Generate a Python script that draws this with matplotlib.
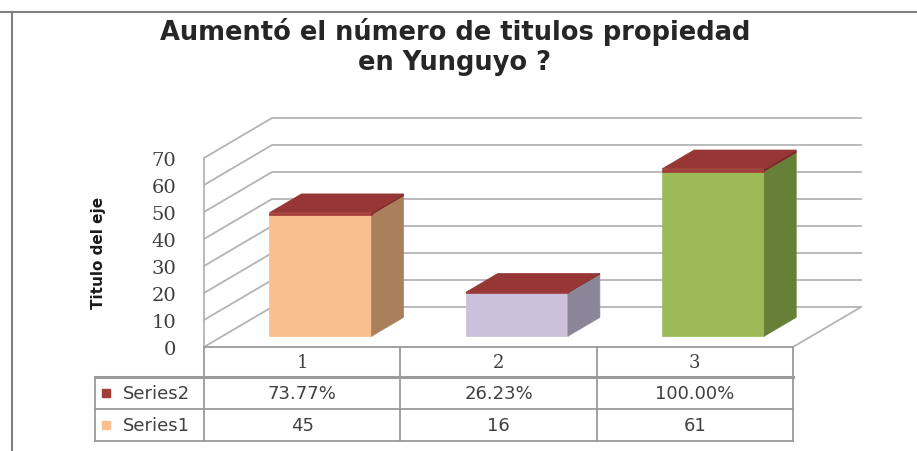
import matplotlib.pyplot as plt
from matplotlib.patches import Polygon
from matplotlib.lines import Line2D

# data
categories = ['1', '2', '3']
series1 = [45, 16, 61]
series2 = [0.7377, 0.2623, 1.0]
series_names = ['Series1', 'Series2']
yticks = [0, 10, 20, 30, 40, 50, 60, 70]

title = 'Aumentó el número de titulos propiedad\nen Yunguyo ?'
ylabel = 'Titulo del eje'

# colours (one per point for Series1, red cap for Series2)
face_colors = ['#F9BF8F', '#CCC1DA', '#9BBB59']
side_colors = ['#A9805B', '#8A8599', '#66803A']
cap_front = '#A33B3B'
cap_top = '#963736'
cap_side = '#7A2C2C'
grid_color = '#B4B4B4'
line_color = '#9A9A9A'

W, H = 917, 452
fig = plt.figure(figsize=(W / 100, H / 100), dpi=100)

# axes = front plane of the 3d box
ax = fig.add_axes([204 / W, 1 - 348 / H, 589 / W, 189 / H])
ax.set_xlim(0, len(categories))
ax.set_ylim(0, 70)
ax.patch.set_visible(False)
for s in ax.spines.values():
  s.set_visible(False)
ax.set_xticks([])
ax.set_yticks(yticks)
ax.tick_params(axis='y', length=0, pad=20, labelsize=14)
for lab in ax.get_yticklabels():
  lab.set_fontfamily('DejaVu Serif')
  lab.set_color('#404040')

# depth offset (in data units) for a full depth of the box
DX = len(categories) * 68 / 589
DY = 70 * 40 / 189


def proj(x, y, d):
  return (x + d * DX, y + d * DY)


# walls and grid
for v in yticks:
  pts = [proj(0, v, 0), proj(0, v, 1), proj(len(categories), v, 1)]
  ax.plot([p[0] for p in pts], [p[1] for p in pts], color=grid_color, lw=1.3, clip_on=False, zorder=1)
ax.plot([0, 0], [0, 70], color=grid_color, lw=1.3, clip_on=False, zorder=1)
p0, p1 = proj(len(categories), 0, 0), proj(len(categories), 0, 1)
ax.plot([p0[0], p1[0]], [p0[1], p1[1]], color=grid_color, lw=1.3, clip_on=False, zorder=1)


def box(x0, x1, y0, y1, d0, d1, front, side, top):
  f = [proj(x0, y0, d0), proj(x1, y0, d0), proj(x1, y1, d0), proj(x0, y1, d0)]
  s = [proj(x1, y0, d0), proj(x1, y0, d1), proj(x1, y1, d1), proj(x1, y1, d0)]
  t = [proj(x0, y1, d0), proj(x1, y1, d0), proj(x1, y1, d1), proj(x0, y1, d1)]
  for poly, c in ((f, front), (s, side), (t, top)):
    ax.add_patch(Polygon(poly, closed=True, facecolor=c, edgecolor=c, lw=0.5, clip_on=False, zorder=3))


bw = 0.52
d0, d1 = 0.27, 0.74
for i in range(len(categories)):
  x0 = i + 0.5 - bw / 2
  x1 = i + 0.5 + bw / 2
  box(x0, x1, 0, series1[i], d0, d1, face_colors[i], side_colors[i], face_colors[i])
  box(x0, x1, series1[i], series1[i] + series2[i], d0, d1, cap_front, cap_side, cap_top)

# data table below the floor
px = 70 / 189  # value units per pixel
rows = [0, -30 * px, -62 * px, -94 * px]
xl = -109 / 589 * len(categories)
n = len(categories)
ax.plot([0, n], [rows[0], rows[0]], color=line_color, lw=1.3, clip_on=False)
ax.plot([xl, n], [rows[1], rows[1]], color=line_color, lw=2.2, clip_on=False)
ax.plot([xl, n], [rows[2], rows[2]], color=line_color, lw=1.3, clip_on=False)
ax.plot([xl, n], [rows[3], rows[3]], color=line_color, lw=1.3, clip_on=False)
ax.plot([xl, xl], [rows[1], rows[3]], color=line_color, lw=1.3, clip_on=False)
for k in range(n + 1):
  ax.plot([k, k], [rows[0], rows[3]], color=line_color, lw=1.3, clip_on=False)

tbl_font = dict(fontsize=13, color='#404040', va='center', clip_on=False)
for i, c in enumerate(categories):
  ax.text(i + 0.5, (rows[0] + rows[1]) / 2, c, ha='center', family='DejaVu Serif', **tbl_font)
  ax.text(i + 0.5, (rows[1] + rows[2]) / 2, f'{series2[i]:.2%}', ha='center', **tbl_font)
  ax.text(i + 0.5, (rows[2] + rows[3]) / 2, f'{series1[i]}', ha='center', **tbl_font)

key_x = -98 / 589 * n
lab_x = -81 / 589 * n
ax.plot([key_x], [(rows[1] + rows[2]) / 2], marker='s', ms=6, color=cap_front, clip_on=False, lw=0)
ax.plot([key_x], [(rows[2] + rows[3]) / 2], marker='s', ms=6, color=face_colors[0], clip_on=False, lw=0)
ax.text(lab_x, (rows[1] + rows[2]) / 2, series_names[1], ha='left', **tbl_font)
ax.text(lab_x, (rows[2] + rows[3]) / 2, series_names[0], ha='left', **tbl_font)

# titles
fig.text(455 / W, 1 - 47 / H, title, ha='center', va='center', fontsize=18.5,
         fontweight='bold', color='#262626', linespacing=1.2)
fig.text(98 / W, 1 - 253 / H, ylabel, ha='center', va='center', rotation=90,
         fontsize=11, fontweight='bold', color='#1a1a1a')

# chart border
fig.add_artist(Line2D([0, 1], [1 - 13 / H, 1 - 13 / H], color='#808080', lw=1.5))
fig.add_artist(Line2D([12 / W, 12 / W], [0, 1 - 13 / H], color='#808080', lw=1.5))

fig.savefig('out.png', dpi=100)
